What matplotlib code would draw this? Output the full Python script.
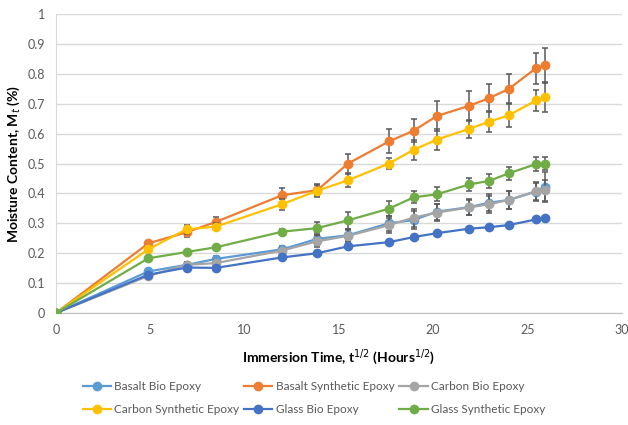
import matplotlib.pyplot as plt
from matplotlib.ticker import FuncFormatter

plt.rcParams['font.family'] = ['Lato', 'DejaVu Sans']

# square root of immersion time (hours^1/2)
t_sqrt = [0, 4.90, 6.93, 8.49, 12.0, 13.86, 15.49, 17.66, 18.97, 20.2, 21.91, 22.98, 24.0, 25.46, 25.92]

basalt_bio = [0, 0.139, 0.161, 0.181, 0.213, 0.248, 0.260, 0.300, 0.311, 0.339, 0.354, 0.369, 0.378, 0.406, 0.422]
basalt_bio_err = [0, 0.005, 0.01, 0.01, 0.01, 0.02, 0.02, 0.025, 0.03, 0.027, 0.026, 0.028, 0.029, 0.03, 0.05]

basalt_syn = [0, 0.233, 0.270, 0.305, 0.394, 0.411, 0.500, 0.574, 0.610, 0.659, 0.693, 0.719, 0.749, 0.819, 0.828]
basalt_syn_err = [0, 0.008, 0.015, 0.015, 0.024, 0.02, 0.033, 0.04, 0.038, 0.05, 0.05, 0.048, 0.05, 0.052, 0.06]

carbon_bio = [0, 0.124, 0.161, 0.167, 0.209, 0.240, 0.258, 0.294, 0.319, 0.336, 0.353, 0.364, 0.378, 0.408, 0.411]
carbon_bio_err = [0, 0.005, 0.01, 0.01, 0.01, 0.02, 0.02, 0.025, 0.03, 0.027, 0.026, 0.028, 0.029, 0.03, 0.035]

carbon_syn = [0, 0.213, 0.280, 0.289, 0.364, 0.409, 0.444, 0.500, 0.546, 0.580, 0.616, 0.640, 0.661, 0.711, 0.722]
carbon_syn_err = [0, 0.008, 0.015, 0.012, 0.018, 0.02, 0.022, 0.02, 0.033, 0.036, 0.03, 0.035, 0.04, 0.036, 0.05]

glass_bio = [0, 0.128, 0.152, 0.151, 0.186, 0.200, 0.223, 0.237, 0.254, 0.267, 0.282, 0.287, 0.294, 0.313, 0.317]

glass_syn = [0, 0.183, 0.204, 0.220, 0.272, 0.284, 0.310, 0.349, 0.387, 0.397, 0.430, 0.442, 0.467, 0.498, 0.500]
glass_syn_err = [0, 0.005, 0.005, 0.008, 0.01, 0.022, 0.028, 0.025, 0.02, 0.023, 0.023, 0.023, 0.022, 0.024, 0.022]

series = [
    ('Basalt Bio Epoxy', basalt_bio, basalt_bio_err, '#5B9BD5'),
    ('Basalt Synthetic Epoxy', basalt_syn, basalt_syn_err, '#ED7D31'),
    ('Carbon Bio Epoxy', carbon_bio, carbon_bio_err, '#A5A5A5'),
    ('Carbon Synthetic Epoxy', carbon_syn, carbon_syn_err, '#FFC000'),
    ('Glass Bio Epoxy', glass_bio, None, '#4472C4'),
    ('Glass Synthetic Epoxy', glass_syn, glass_syn_err, '#70AD47'),
]

fig = plt.figure(figsize=(6.28, 4.25), dpi=100)
ax = fig.add_axes([0.089, 0.2635, 0.901, 0.7035])

handles = {}
for i, (name, vals, err, col) in enumerate(series):
    z = 3 + i
    if err is not None:
        ax.errorbar(t_sqrt, vals, yerr=err, fmt='none', ecolor='#595959',
                    elinewidth=1.1, capsize=2.5, capthick=1.1, zorder=z)
    line, = ax.plot(t_sqrt, vals, color=col, lw=1.6, marker='o', markersize=6,
                    label=name, zorder=z + 0.5)
    handles[name] = line

ax.set_xlim(0, 30)
ax.set_ylim(0, 1)
ax.set_xticks(range(0, 31, 5))
ax.set_yticks([i / 10 for i in range(11)])
ax.yaxis.set_major_formatter(FuncFormatter(lambda v, p: '{:g}'.format(round(v, 1))))
ax.tick_params(length=0, labelsize=9, colors='#595959', pad=8)
ax.grid(axis='y', color='#D9D9D9', lw=1)
ax.set_axisbelow(True)
for s in ['top', 'right']:
    ax.spines[s].set_visible(False)
ax.spines['left'].set_color('#D9D9D9')
ax.spines['bottom'].set_color('#BFBFBF')

ax.set_xlabel('Immersion Time, t$^{1/2}$ (Hours$^{1/2}$)', fontsize=10, fontweight='bold', labelpad=8)
ax.set_ylabel('Moisture Content, M$_t$ (%)', fontsize=10, fontweight='bold', labelpad=4)

# row-wise order for a 3 column legend
order = ['Basalt Bio Epoxy', 'Carbon Synthetic Epoxy', 'Basalt Synthetic Epoxy',
         'Glass Bio Epoxy', 'Carbon Bio Epoxy', 'Glass Synthetic Epoxy']
leg = fig.legend([handles[n] for n in order], order, loc='center', ncol=3,
                 bbox_to_anchor=(0.5, 0.063), frameon=False, fontsize=8.5,
                 handlelength=2.4, columnspacing=0.4, handletextpad=0.3, labelspacing=1.0)
for t in leg.get_texts():
    t.set_color('#595959')

plt.savefig('out.png', dpi=100)
